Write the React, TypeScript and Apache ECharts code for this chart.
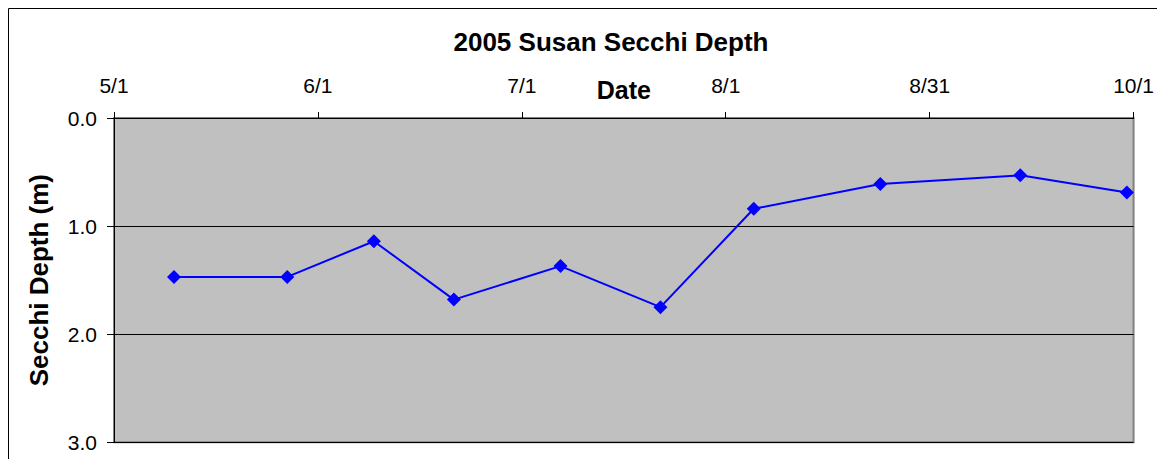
import React, { useEffect, useRef } from "react";
import * as echarts from "echarts";

// Sample dates (2005) and Secchi depth readings (m)
const sampleDates = [
  "2005-05-10",
  "2005-05-27",
  "2005-06-09",
  "2005-06-21",
  "2005-07-07",
  "2005-07-22",
  "2005-08-05",
  "2005-08-24",
  "2005-09-14",
  "2005-09-30",
];
const secchiDepths = [1.47, 1.47, 1.14, 1.68, 1.37, 1.75, 0.84, 0.61, 0.53, 0.69];

// Date axis: from 5/1 to 10/1, labels as shown
const axisStart = "2005-05-01";
const axisEnd = "2005-10-01";
const dateTickLabels = ["5/1", "6/1", "7/1", "8/1", "8/31", "10/1"];
const depthTicks = [0, 1, 2, 3];

const DAY = 86400000;
const dayOffset = (d: string) =>
  Math.round((Date.parse(d + "T00:00:00Z") - Date.parse(axisStart + "T00:00:00Z")) / DAY);

export default function App() {
  const ref = useRef<HTMLDivElement>(null);
  useEffect(() => {
    if (!ref.current) return;
    const chart = echarts.init(ref.current, undefined, { renderer: "svg" });
    const span = dayOffset(axisEnd);
    const interval = span / (dateTickLabels.length - 1);
    const data = sampleDates.map((d, i) => [dayOffset(d), secchiDepths[i]]);
    const font = "Arial, 'Liberation Sans', sans-serif";
    chart.setOption({
      animation: false,
      backgroundColor: "#ffffff",
      graphic: [
        {
          type: "rect",
          shape: { x: 0.5, y: 0.5, width: 1400, height: 700 },
          style: { fill: "none", stroke: "#000000", lineWidth: 1 },
          silent: true,
          z: -10,
        },
        {
          type: "text",
          x: 603,
          y: 34,
          style: {
            text: "2005 Susan Secchi Depth",
            font: `bold 26px ${font}`,
            fill: "#000",
            textAlign: "center",
            textVerticalAlign: "middle",
          },
        },
      ],
      grid: {
        left: 106,
        top: 110,
        right: 21.5,
        bottom: 16.7,
        show: true,
        backgroundColor: "#c0c0c0",
        borderColor: "#808080",
        borderWidth: 2,
      },
      xAxis: {
        type: "value",
        position: "top",
        min: 0,
        max: span,
        interval: interval,
        name: "Date",
        nameLocation: "middle",
        nameGap: 16,
        nameMoveOverlap: false,
        nameTextStyle: { fontFamily: font, fontWeight: "bold", fontSize: 25, color: "#000" },
        axisLine: { show: true, onZero: false, lineStyle: { color: "#000", width: 1 } },
        axisTick: { show: true, inside: false, length: 6, lineStyle: { color: "#000" } },
        axisLabel: {
          fontFamily: font,
          fontSize: 21,
          color: "#000",
          margin: 22,
          formatter: (v: number) => {
            const idx = Math.round(v / interval);
            return dateTickLabels[idx] ?? "";
          },
        },
        splitLine: { show: false },
      },
      yAxis: {
        type: "value",
        inverse: true,
        min: depthTicks[0],
        max: depthTicks[depthTicks.length - 1],
        interval: 1,
        name: "Secchi Depth (m)",
        nameLocation: "middle",
        nameRotate: 90,
        nameGap: 62,
        nameMoveOverlap: false,
        nameTextStyle: { fontFamily: font, fontWeight: "bold", fontSize: 26, color: "#000" },
        axisLine: { show: true, onZero: false, lineStyle: { color: "#000", width: 1 } },
        axisTick: { show: true, inside: false, length: 7, lineStyle: { color: "#000" } },
        axisLabel: {
          fontFamily: font,
          fontSize: 21,
          color: "#000",
          margin: 17,
          formatter: (v: number) => v.toFixed(1),
        },
        splitLine: { show: true, lineStyle: { color: "#000", width: 1 } },
      },
      series: [
        {
          type: "line",
          data: data,
          symbol: "diamond",
          symbolSize: 14,
          itemStyle: { color: "#0000ff" },
          lineStyle: { color: "#0000ff", width: 2 },
        },
      ],
    });
    return () => chart.dispose();
  }, []);
  return <div ref={ref} style={{ width: 1149, height: 451 }} />;
}
